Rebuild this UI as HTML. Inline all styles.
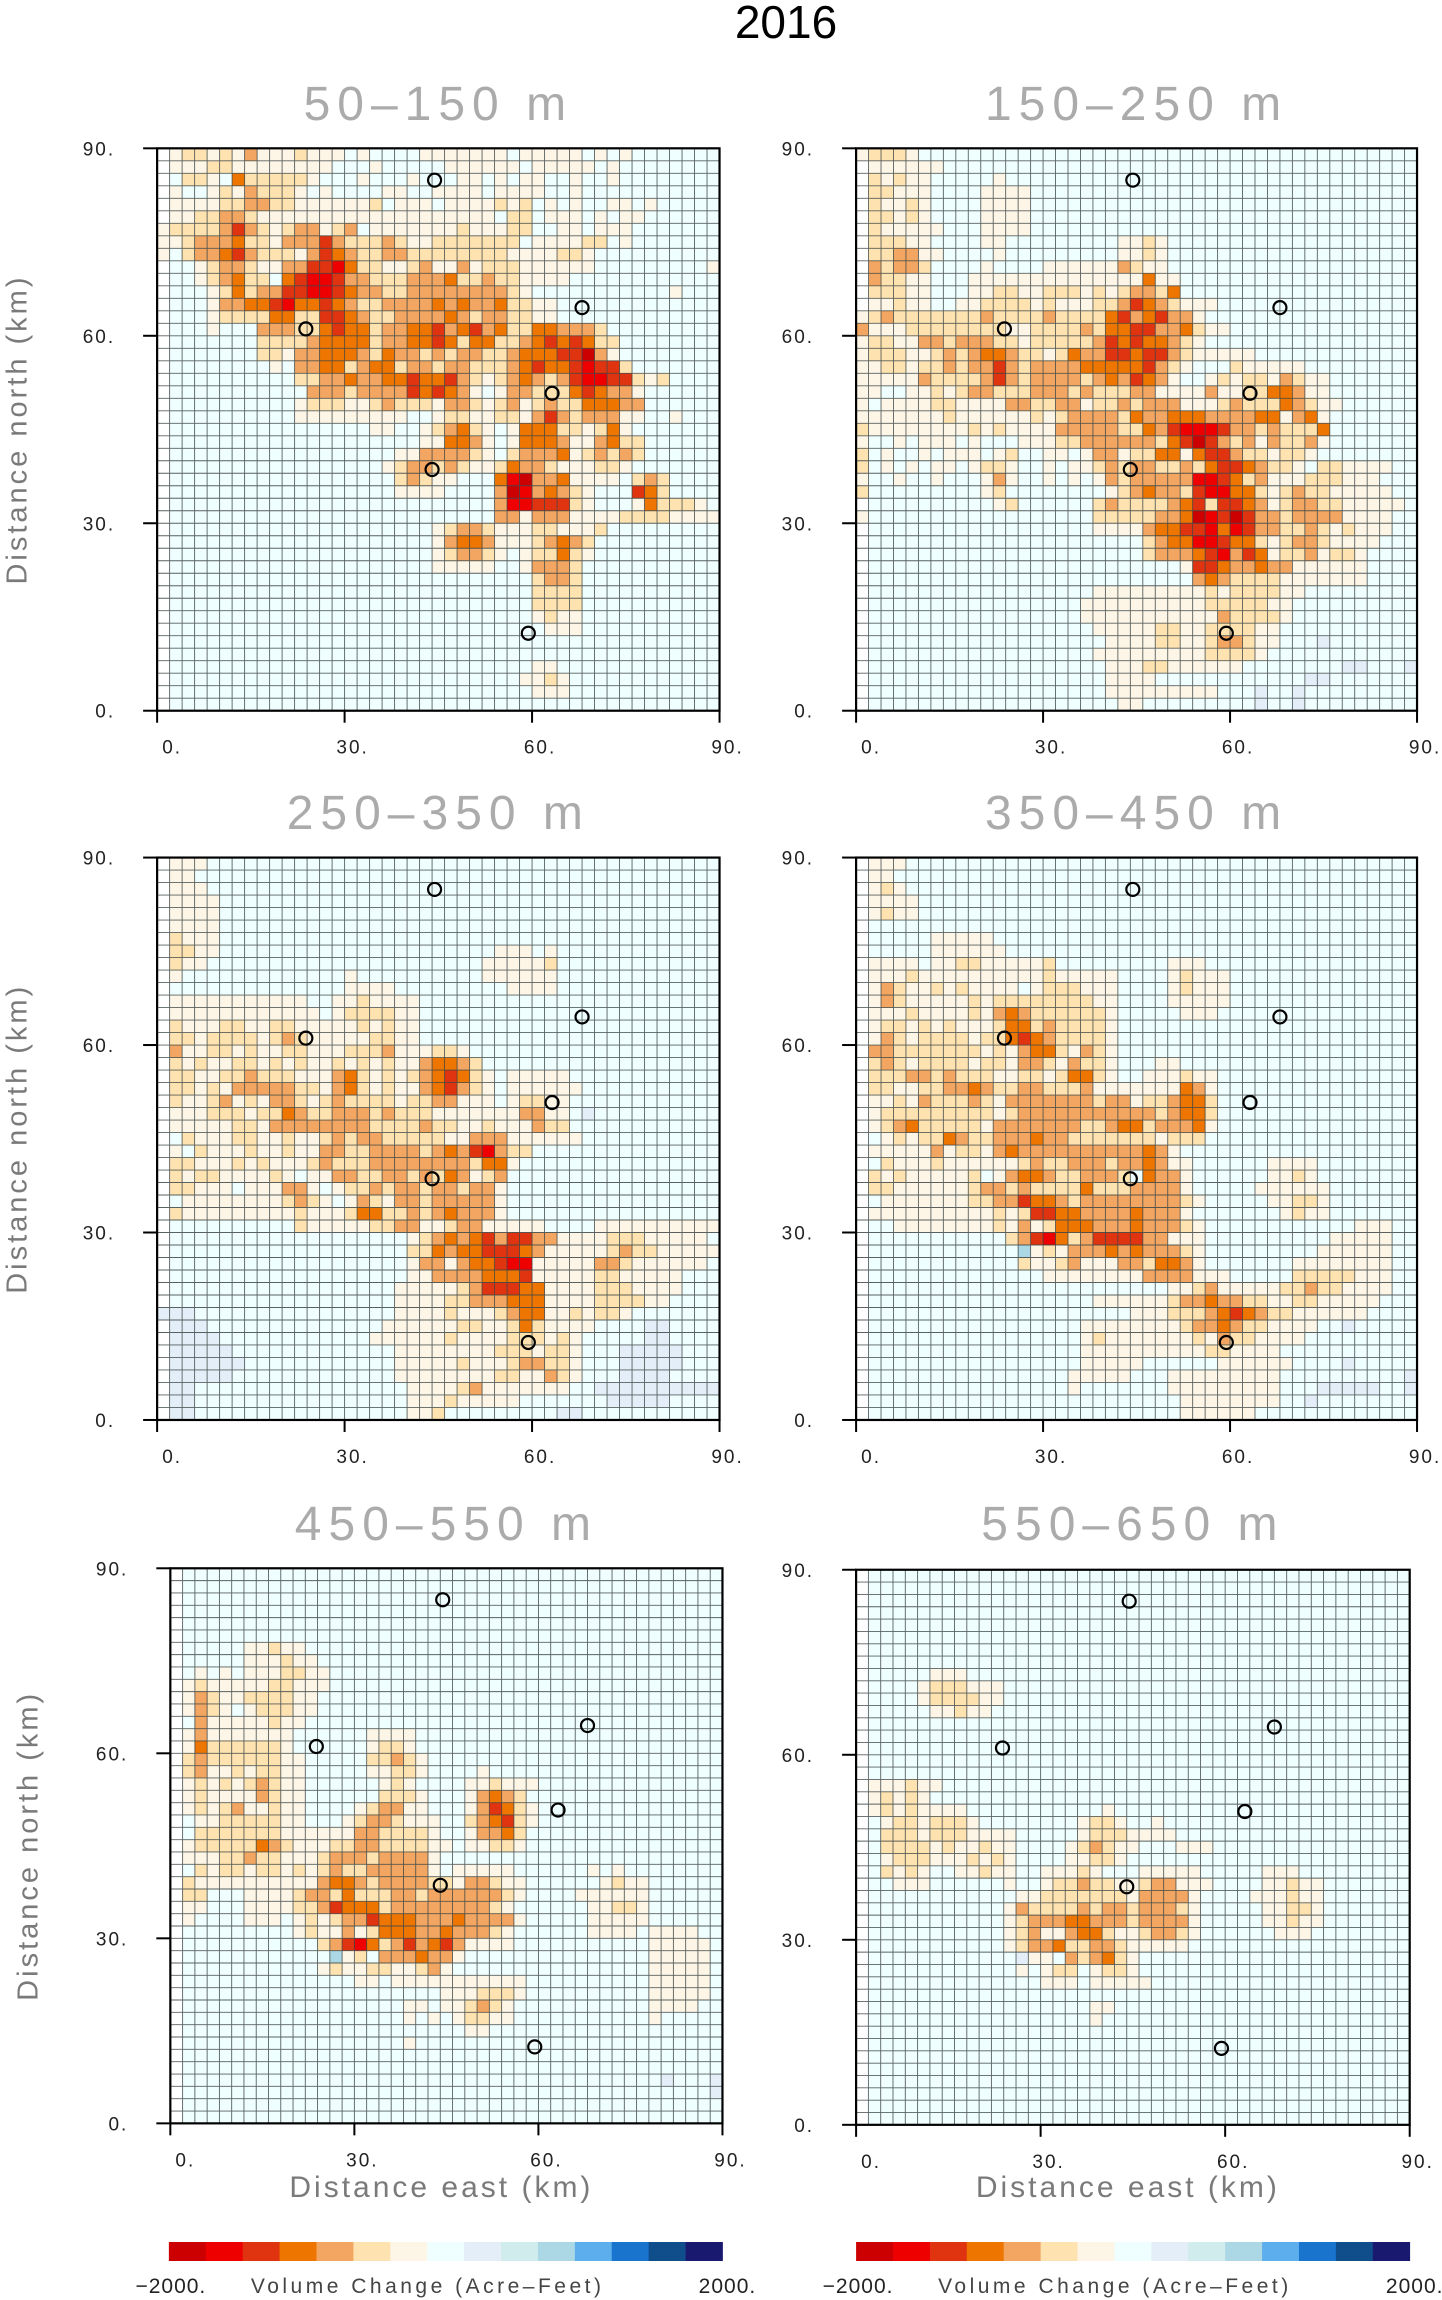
<!DOCTYPE html>
<html><head><meta charset="utf-8"><title>2016 Volume Change</title>
<style>
html,body{margin:0;padding:0;background:#fff;}
svg{display:block;font-family:"Liberation Sans",sans-serif;}
</style></head>
<body>
<svg id="fig" xmlns="http://www.w3.org/2000/svg" width="1442" height="2300" viewBox="0 0 1442 2300">
<text x="786" y="38" text-anchor="middle" font-size="46" fill="#000">2016</text>
</svg>
<script>
// ---------- data ----------
const panelTitles = ["50\u2013150 m","150\u2013250 m","250\u2013350 m","350\u2013450 m","450\u2013550 m","550\u2013650 m"];
const tickValues = [0,30,60,90];
const tickLabels = ["0.","30.","60.","90."];
// color bins (letters) -> value (acre-feet), bins of 4000/15 from -2000
const binLetters = "gfedcba.x?y????";
const cbarColors = ["#cc0000","#ee0000","#e03410","#ee7600","#f2a662","#fee2b0","#fdf5e6","#effefe","#e3eef8","#d0ecec","#acd8e6","#5caeec","#1874cd","#104e8b","#191970"];
const stationX = [44.4,68.0,23.8,63.2,44.0,59.4];
const stationY = [84.9,64.5,61.1,50.8,38.6,12.4];

const p1Rows = [
"1:abbabacaaabaaa.a....aaaaaaa.aaaaa.a.a","1:aaabbaaaaaaaa...a.....aaaaaa.aaaaa.a","2:bba.dbbbbba...a...a...aa.a.aa..a..a",
"1:a..abacbbba.a....aa..aaaa.aaaa..a","1:aaaabbccbbaaaaaab.aaa.aaaabab.a.a..aa.a","1:aabbccbaaaaaaaaaaaaaaaaaaa.bb.aaa.a.aa",
"0:abbbbcecbabccabc.aaaaaaabaaabb..aa.aaa","0:aabcccdbbacccecbbbcbaabbbbbbb.aaaabb.a","0:a.bccdecbbbacedcbbccbbbbbbbbaaaabba",
"3:abccbaacceefdbbaabcaacabbbaaaaaa 44:a","3:abcdbb.deffeccbbbcccdbbcbbaaaa","4:abdbcceeffedccbbccccccccba 41:a",
"4:accddefddedcbbccccdcdccdbbaa","4:abbbbddbbeedcbbccccdcbccbbaa","4:a...cccbbdeddbccddecdecdbbddcccb",
"8:bbbbcddddbccddedbddbbcdededbb","8:bbaccdddcbdccbcbccbbcdddeegca","9:a.ccddbcddbccbccbbbcdeddefeeb",
"11:bbccdccddeddecbabcdcbceffeebab","12:cccbccccededca.accbbbdedcca","11:abbbaabcbbbaccbabcabcbbdddcc",
"11:aaaaaaaaa..abbaabbacecbcccaa..a","17:aa..abcdba.adddbbabda","21:aaddca.adddcaacdbb",
"19:aaccccba.bcccdabcbcb","18:abccbcbaabdccbaaabba","19:bcbaa...dfgccdaaaa.bcb",
"19:aaaa....cgfcdcba...edb","27:cffeeeba...adbbba","27:ccacccaaaabbbbaaaa",
"22:abccbaaabbaaab","22:acddcaaabcdcb","22:abccba.abbdba","22:aaaaa..acccb",
"30:bccb","30:bbbb","30:bbbb","30:abaa","31:aaa","","","30:aa","29:aaba","30:aaa",""];
const p2Rows = [
"0:abbba","1:aaaaaa","1:babaa.....a","1:bbaaa....aaaa","1:baaba....aaaa","1:bbaba....aaaa","1:baaaaa...aaaa",
"1:bbbaa....aa 21:aaba","1:bbccaa....a 21:aaba","1:cbccb....a 15:aaaaaacbaa","1:cbbaa...aaaaaaaaaaaaaadaa",
"1:bbbaa...aabbaabbbababccbd","1:aabaa..aabbbbabaaabbcedcbaaa","0:abcbbbbbbbcbbbbcbbbbdecdecca",
"0:caaabbbbbbbbaabbbbcbddeeccdbaa","0:abbaaccbcccbbabbbbbcededdcba","0:abbbaabcbcddcbbabdcceedeecbaaaaa",
"0:aabbabbcbccecbccccdddddecba...baaaaa","0:aaaaacbbbbcecbccccbcdcedca..ababbacbaa",
"0:aa..aababccbbbcccbcbbbccaaaacaabbddcaa","0:a.aaaabbaaaaccbbccabbcbcccaaabcbbbdcbaa",
"0:aaaaaaabaaaaaababccccbdccdddccccddacda","0:baaaaaaaababaaaacccccbbdcefffeccbcbbbd",
"0:a..a.aaa.a...aaabbccccccbdegecbcacbbca","0:b.a..a.aaa.ab..aa.accabbddadeecbbabba",
"0:b.a.a.aa.abba..a.aabcbccbbcbdeedcbba.bbaaaa","0:a..a..a...aca..a.a.acbcccccffedbcaaabbbaaa",
"0:b 10:ab 20:abcdccbeffddbabcbbaaaaa","11:ab 19:bcbbbbcdebeedcabccbbaaaaa","0:a 19:bbbbbccdgfegeccbccccaaaa",
"19:aaaacddeefdfeccbbcbabaaa","23:bcddffeddbabccbaaaa","23:bcccdefcedabbcabba","26:aeedccdccaaaaaa",
"27:cdcbbbbaaaaaaa","19:aaaaaaaaababbbbaa","18:aaaaaaaaaabbbbbaa","18:aaaaaaaaaaacbbbba","19:aaaaabbaabbbbaa",
"20:aaaabbaabccbaa 37:x","19:aaaaaaaaabbbba","20:aaabbaaaaaa 39:xx 44:x","20:aaaa 36:xx","20:aaaaaaaaa 32:x 35:x","21:aa 32:x 35:x"];
const p3Rows = [
"1:aaa","1:aa","1:aaa","1:aaaa","1:aaaa","1:aaaa","1:baaa","1:bbaa 27:aaa.a","1:baa 26:aaaaab","1:a 15:a 26:aaaaaa",
"15:aaaa 28:aaaa","1:aaaaaaaaaaa..aabaaaa","1:aaaaaaaaaaaa.abbbbaa","1:baaabbaabbaaaaababaa","1:bbabbbbabcbaaaaabbaa",
"1:caabbabaabbaaabbbcaaabba","1:babaabbababaabababaacddcb","1:bbaabbcbbbaaacdbababcdedba.aaaaa",
"1:bbabacccccbbacdbabaacdecba.aaaaaa","1:baabcabaccbabcbbbbabbccaaa.abbaa","1:aaabbbabbdcbbcccbcbbbaaaaaaaccaa 34:x",
"1:aaaaabbaccccccccbbbbcbbaabaaacbb","1:.baaabbaabaabcbccbbbbbaacccaaaaaa","1:a.baaabaabaaccbbccccbcdcefcbb",
"1:bbaaababaaabcbbbccccccccbdda","1:babbaaaaba.aaccbbccbcbdcabc","1:bbaaa.aaacca.abbcbccbccbcca",
"1:.aaaaaaaabcba.acbaccbccccca","1:baaaaaaaaabaaabddbbcbcdccca","11:baaaaabbccaabccaaaaa 35:aaaaaaaaaa",
"20:abcdcdeceeccaaaabbbaaaaa","20:bbdcddeeedcaaaaabcbbaaaaa","20:accacddeffaaaaaccbaaaaaa","20:aaccccdddeaaaaabbaaaaa",
"19:aaaaabceeeddaaaabbbaaaa","19:aaaabbcccdddaaaabbbbaa","0:xxx 19:aaaabaaabcddaababba","1:xxx 18:aaaaaabbaabdbaaaa 39:xx",
"1:xxxx 17:aaaaaabaaaabbbaba 39:xx","1:xxxxx 19:aaaaaaaabbbabba 37:xxxxx","1:xxxxxx 19:aaaaabaaabccbba 37:xxxxx",
"1:xxxxx 19:aaaaaaaabbaacba 37:xxxx","1:xx 20:aaaabcaaaaaaa 35:xxxxxxxxxx","1:xx 20:aaabaaaaa 36:xxxxx","1:xx 20:aab 32:xx"];
const p4Rows = [
"1:aaa","1:aa","1:aba","1:aaaa","1:abaa","","6:aaaaa","6:aaaaaa","1:aaaa.aabbaaaaab 25:aaa",
"1:aaabaaaaaaaaaabaaaaa 25:abaaa","1:acbaababaaaa.abbbaaa 25:abaaa","1:acbaaaaababbbbbbbbaa 25:aaaaa",
"1:aaabaaaabacdcbbbbbba 26:aaa","1:abbababaaabddbcbbbba","1:acbabbbbabbdedcbbbba","1:ccbbbbbbbabacddbacba",
"1:bcbabbbbabbaccbacbba 24:aa","1:bbbccbcbbbaabbabddba 23:aaabaa","1:bbaabbccdcbbccbbbcaaaaaaadca",
"1:aabacbbbcbacccccccbccabbcddb","1:abbbbbbbbbabcccccccccccbcddb","1:abcdbbbbbacccccccbbcddbcccda",
"1:.ababbdcbbcccdccbbbbbbbabbb","1:aaaaacabbacdccccccccccdca","1:.baaabaaaaaabcbbcccbccdcaa 33:aaaa",
"1:babaaaaab.acddcbbcccb.dcca 33:aaba","1:bbaaaaaabccbcbbbbdbbbcccca 32:aaaaaa","1:.aaaaaaabbcceddcbccccccccba 33:aabba",
"1:aaaaaaaaaababeeddccccdccca 34:abaa","3:aaaaaaaabacabdddcccdcccba 40:aaa","12:bcefdbceeeeccaaa 38:aaaaa",
"13:yabacccdcdcccba 37:aaaaaa","13:baabcaaaccbddca 35:aaaaaaaa","15:aaaaaaaaccccaaa 35:bbbbbaaa",
"25:aabcaaaaabbcbbaaaa","19:aaaaaabccdccbbaabbaaaaa","22:aaabbbcdedcbbaaaaaa","18:aaaaaaaabccdcbbaaaa 39:x",
"18:abaaaaaaabacbbaaaa","18:aaaaaaaaaabbaaaa","18:aaaaa 29:aaaaaa 39:x","17:aaaaa 25:aaaaaaaaa 44:x",
"17:a 25:aaaaaaaaa 37:xxxxx 44:x","26:aaaaaaaa 36:x","26:aaaaaa"];
const p5Rows = [
"","","","","","","6:aabaa","6:aaabaa","2:a.a.aaabbaa","1:abaaaaabbaaa","1:acbaabbbbaa","1:acba.abbbaa","1:.caaaaabaa",
"1:acaaaaaaa 16:aaaa","1:adbbbbbba 16:abba","1:bcbbbbbbaa 16:bbcba","1:bcaababbaa 16:aabba 25:a",
"1:abababcbaa 17:aba 24:aabaaa","1:abaaaacbaa 17:bbba 24:acdcb","1:ababcaabaa 15:abccaa 24:acedba",
"1:.aabbbbbaa 14:abccbaaa 24:bcdeba","1:.bbbbbbbaaaaaaccbbbba 24:accdb","1:abbbbbdcbaaabbccbbbbaa 24:aabba",
"1:aaabbcbbaaabcccbcccca","1:.babbabbababcbbccccca.aaaaa 34:a.a","1:baaaaaaaaaacddcbccccbbaccbaa 35:abaa",
"1:bb...aaaabccbdbbbccbccccccba 33:aaaaaa","1:aa...aaaabbcedddbccccccccba 34:aabba",
"1:a....aaa.ababccedddcccdcccca 34:aaaaa","10:abaacabdddccdcccba 34:aaaa 39:aaaa","12:bcefdbcecdecaaaa 39:aaaaa",
"13:yab.cccdcca 39:aaaaa","12:abaabbaabca 39:aaaaa","15:aa.aaaaaaaaaaa 39:aaaaa","22:aaabbba 39:aaaaa",
"19:aa.aabcba 39:aaaa","19:a.a.abbaa 39:a","24:aa","19:a","","","40:x 44:x","44:x","",""];
const p6Rows = [
"","","","","","","","","6:aaa","5:abbbaaa","5:abbbbaa","6:aabaa","","","","","",
"1:aaabaa","1:ababa","1:ababaaaa 20:a","2:abbabbba 18:abba 24:a","2:bbbabbbaaaa 18:abbbaaaa",
"2:bbbbabaabaa 17:abcbaa 26:aaa","2:abbbaaababa 17:aabba","2:baba..aabaa 15:aaaba...aaaaa 33:aaa",
"3:aaa 12:a 15:abbcbbaabccaaa 33:aabaa","13:aabbbbbbbacccca 32:aaabaa","12:acbbbbcbccbcccba 33:aabba",
"12:abcccddcccbcccca 33:aabaa","12:abcaacddbaabccba 34:aaa","12:abccdbbccbaaaaa","13:xaa.cbcdba",
"13:a.abb.abba","15:aaa.aaaaa","","19:aa","19:a","","","","","","","",""];
const panelRows = [p1Rows,p2Rows,p3Rows,p4Rows,p5Rows,p6Rows];

// ---------- layout ----------
const S = 1442/982;
const panels = [
 {x0:107,x1:490,y0:101,y1:484,ty:70,col:0,row:0},
 {x0:583,x1:965,y0:101,y1:484,ty:70,col:1,row:0},
 {x0:107,x1:490,y0:584,y1:967,ty:553,col:0,row:1},
 {x0:583,x1:965,y0:584,y1:967,ty:553,col:1,row:1},
 {x0:116,x1:492,y0:1068,y1:1446,ty:1037,col:0,row:2},
 {x0:583,x1:960,y0:1069,y1:1447,ty:1037,col:1,row:2}
];
const NS='http://www.w3.org/2000/svg';
const svg=document.getElementById('fig');
function mk(tag,attrs,parent){const e=document.createElementNS(NS,tag);for(const k in attrs)e.setAttribute(k,attrs[k]);(parent||svg).appendChild(e);return e;}
function valueOf(ch){const b=binLetters.indexOf(ch);return -2000+(b+0.5)*(4000/15);}
function colorOf(v){let b=Math.floor((v+2000)/(4000/15));b=Math.max(0,Math.min(14,b));return cbarColors[b];}
function decode(rows){
  const grid=[];
  for(let r=0;r<45;r++){
    const line=new Array(45).fill(valueOf('.'));
    const s=rows[r]||"";
    s.split(' ').filter(Boolean).forEach(seg=>{
      const i=seg.indexOf(':');const c0=+seg.slice(0,i);const chars=seg.slice(i+1);
      for(let k=0;k<chars.length;k++){if(c0+k<45&&chars[k]!=='.')line[c0+k]=valueOf(chars[k]);}
    });
    grid.push(line);
  }
  return grid;
}

panels.forEach((p,pi)=>{
  const L=p.x0*S,R=p.x1*S,T=p.y0*S,B=p.y1*S;
  const xs=v=>L+(v/90)*(R-L), ys=v=>B-(v/90)*(B-T);
  const g=mk('g',{});
  
  
  const t=mk('text',{x:(L+R)/2,y:p.ty*S+17,'text-anchor':'middle','font-size':48,fill:'#ababab','letter-spacing':7},g);
  t.textContent=panelTitles[pi];
  
  
  const grid=decode(panelRows[pi]);
  const cells=mk('g',{},g);
  
  
  for(let r=0;r<45;r++)for(let c=0;c<45;c++){
    const v=grid[r][c];
    let fill=colorOf(v);
    if(c===0&&fill==='#effefe')fill='#ffffff';
    const yTop=ys(90-r*2), yBot=ys(90-(r+1)*2);
    const rc=mk('rect',{x:xs(c*2),y:yTop,width:xs((c+1)*2)-xs(c*2)+0.3,height:yBot-yTop+0.3,fill:fill},cells);
    
    
  }
  let d='';
  for(let k=1;k<45;k++){const x=xs(k*2);d+=`M${x},${T}V${B}`;const y=ys(k*2);d+=`M${L},${y}H${R}`;}
  const gl=mk('path',{d:d,stroke:'#3d4747','stroke-width':0.9,fill:'none','stroke-opacity':0.85},g);
  
  
  const fr=mk('rect',{x:L,y:T,width:R-L,height:B-T,fill:'none',stroke:'#000','stroke-width':2.2},g);
  
  
  tickValues.forEach((v,i)=>{
    const tx=mk('line',{x1:xs(v),x2:xs(v),y1:B,y2:B+12,stroke:'#000','stroke-width':2},g);
    
    
    const ty=mk('line',{x1:L-14,x2:L,y1:ys(v),y2:ys(v),stroke:'#000','stroke-width':2},g);
    
    
    const xl=mk('text',{x:xs(v)+(v===0?15:8),y:B+43,'text-anchor':'middle','font-size':19,fill:'#222','letter-spacing':2},g);
    xl.textContent=tickLabels[i];
    
    
    const yl=mk('text',{x:L-42,y:ys(v)+7,'text-anchor':'end','font-size':19,fill:'#222','letter-spacing':2},g);
    yl.textContent=tickLabels[i];
    
    
  });
  stationX.forEach((sx,i)=>{
    const c=mk('circle',{cx:xs(sx),cy:ys(stationY[i]),r:6.5,fill:'none',stroke:'#000','stroke-width':2.2},g);
    
    
  });
  if(p.col===0){
    const cy=(T+B)/2, cx=(p.row===2?30:19);
    const yt=mk('text',{x:cx,y:cy,'text-anchor':'middle','font-size':29,fill:'#7a7a7a','letter-spacing':3,transform:`rotate(-90 ${cx} ${cy})`,'dominant-baseline':'middle'},g);
    yt.textContent='Distance north (km)';
    
    
  }
  if(p.row===2){
    const xt=mk('text',{x:(L+R)/2-5,y:2197,'text-anchor':'middle','font-size':30,fill:'#7a7a7a','letter-spacing':3},g);
    xt.textContent='Distance east (km)';
    
    
    const cb=mk('g',{},g);
    
    
    const cL=(p.col===0?115:583)*S, cR=(p.col===0?492:960)*S, cT=2242, cH=19;
    const w=(cR-cL)/15;
    cbarColors.forEach((col,i)=>{
      const r=mk('rect',{x:cL+i*w,y:cT,width:w+0.4,height:cH,fill:col},cb);
      
      
    });
    const l1=mk('text',{x:cL+2,y:2293,'text-anchor':'middle','font-size':21,fill:'#222','letter-spacing':1},cb);
    l1.textContent='\u22122000.';
    
    
    const l2=mk('text',{x:(cL+cR)/2-18,y:2293,'text-anchor':'middle','font-size':21,fill:'#444','letter-spacing':3.5},cb);
    l2.textContent='Volume Change (Acre\u2013Feet)';
    
    
    const l3=mk('text',{x:cR+5,y:2293,'text-anchor':'middle','font-size':21,fill:'#222','letter-spacing':1},cb);
    l3.textContent='2000.';
    
    
  }
});
</script>
</body></html>
